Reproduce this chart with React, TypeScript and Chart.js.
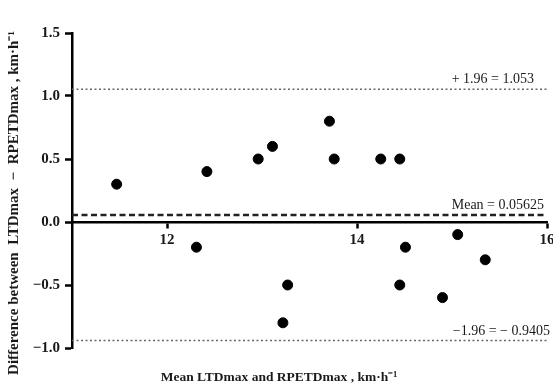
import React, { useEffect, useRef } from "react";
import { Chart, registerables } from "chart.js";
Chart.register(...registerables);

const meanValues = [11.47, 12.42, 12.96, 13.11, 13.71, 13.76, 14.25, 14.45, 12.31, 13.27, 13.22, 14.51, 15.06, 15.35, 14.45, 14.9];
const differences = [0.3, 0.4, 0.5, 0.6, 0.8, 0.5, 0.5, 0.5, -0.2, -0.5, -0.8, -0.2, -0.1, -0.3, -0.5, -0.6];
const xTicks = [12, 14, 16];
const xRange = [11, 16];
const yRange = [-1, 1.5];
const meanDiff = 0.05625;
const upperLimit = 1.053;
const lowerLimit = -0.9405;
const limitLabels = ["+ 1.96 = 1.053", "Mean = 0.05625", "\u22121.96 = \u2212 0.9405"];
const xTitle = "Mean LTDmax and RPETDmax , km\u00b7h\u207b\u00b9";
const yTitle = "Difference between  LTDmax  \u2212  RPETDmax , km\u00b7h\u207b\u00b9";

const SERIF = '"Liberation Serif", "Times New Roman", serif';

const textPlugin = {
  id: "blandAltmanText",
  afterDraw(chart: any) {
    const { ctx, scales } = chart;
    const y = scales.y;
    ctx.save();
    ctx.fillStyle = "#1a1a1a";
    ctx.font = `14px ${SERIF}`;
    ctx.textAlign = "right";
    ctx.textBaseline = "alphabetic";
    const rightEdges = [534, 544, 550];
    const vals = [upperLimit, meanDiff, lowerLimit];
    vals.forEach((v, i) => {
      ctx.fillText(limitLabels[i], rightEdges[i], y.getPixelForValue(v) - 6);
    });
    ctx.font = `bold 13.5px ${SERIF}`;
    ctx.textAlign = "center";
    ctx.fillText(xTitle, 279, 381);
    ctx.font = `bold 15px ${SERIF}`;
    ctx.translate(14, 203);
    ctx.rotate(-Math.PI / 2);
    ctx.textBaseline = "middle";
    ctx.fillText(yTitle, 0, 0);
    ctx.restore();
  },
};

export default function App() {
  const ref = useRef<HTMLCanvasElement | null>(null);
  useEffect(() => {
    document.body.style.margin = "0";
    const canvas = ref.current!;
    const lineData = (v: number) => [
      { x: xRange[0], y: v },
      { x: xRange[1], y: v },
    ];
    const chart = new Chart(canvas, {
      type: "scatter",
      data: {
        datasets: [
          {
            type: "line",
            data: lineData(upperLimit),
            borderColor: "#666",
            borderWidth: 1.6,
            borderDash: [2, 2.5],
            pointRadius: 0,
            fill: false,
          } as any,
          {
            type: "line",
            data: lineData(meanDiff),
            borderColor: "#222",
            borderWidth: 2.5,
            borderDash: [6, 3.5],
            pointRadius: 0,
            fill: false,
          } as any,
          {
            type: "line",
            data: lineData(lowerLimit),
            borderColor: "#666",
            borderWidth: 1.6,
            borderDash: [2, 2.5],
            pointRadius: 0,
            fill: false,
          } as any,
          {
            data: meanValues.map((m, i) => ({ x: m, y: differences[i] })),
            backgroundColor: "#000",
            borderColor: "#000",
            pointRadius: 5,
            pointHoverRadius: 5,
          },
        ],
      },
      options: {
        responsive: false,
        animation: false,
        layout: { padding: { top: 33, right: 6, bottom: 40, left: 0 } },
        plugins: { legend: { display: false }, tooltip: { enabled: false } },
        scales: {
          x: {
            type: "linear",
            min: xRange[0],
            max: xRange[1],
            position: { y: 0 } as any,
            afterBuildTicks: (s: any) => {
              s.ticks = xTicks.map((v) => ({ value: v }));
            },
            afterFit: (s: any) => {
              s.paddingLeft = 0;
              s.paddingRight = 0;
            },
            grid: { drawOnChartArea: false, drawTicks: true, tickLength: 5, tickWidth: 2.5, color: "#000" },
            border: { display: true, color: "#000", width: 2.5 },
            ticks: {
              color: "#1a1a1a",
              font: { family: SERIF, size: 15, weight: "bold" },
              padding: 4,
              maxRotation: 0,
              callback: (v: any) => String(v),
            },
          },
          y: {
            type: "linear",
            min: yRange[0],
            max: yRange[1],
            afterFit: (s: any) => {
              s.width = 72;
              s.paddingTop = 0;
              s.paddingBottom = 0;
            },
            grid: { drawOnChartArea: false, drawTicks: true, tickLength: 7, tickWidth: 2.5, color: "#000" },
            border: { display: true, color: "#000", width: 2.5 },
            ticks: {
              stepSize: 0.5,
              color: "#1a1a1a",
              font: { family: SERIF, size: 15, weight: "bold" },
              padding: 5,
              callback: (v: any) => Number(v).toFixed(1).replace("-", "\u2212"),
            },
          },
        },
      },
      plugins: [textPlugin],
    } as any);
    return () => chart.destroy();
  }, []);
  return (
    <div style={{ position: "absolute", left: 0, top: 0, width: 553, height: 388, background: "#fff" }}>
      <canvas ref={ref} width={553} height={388} />
    </div>
  );
}
